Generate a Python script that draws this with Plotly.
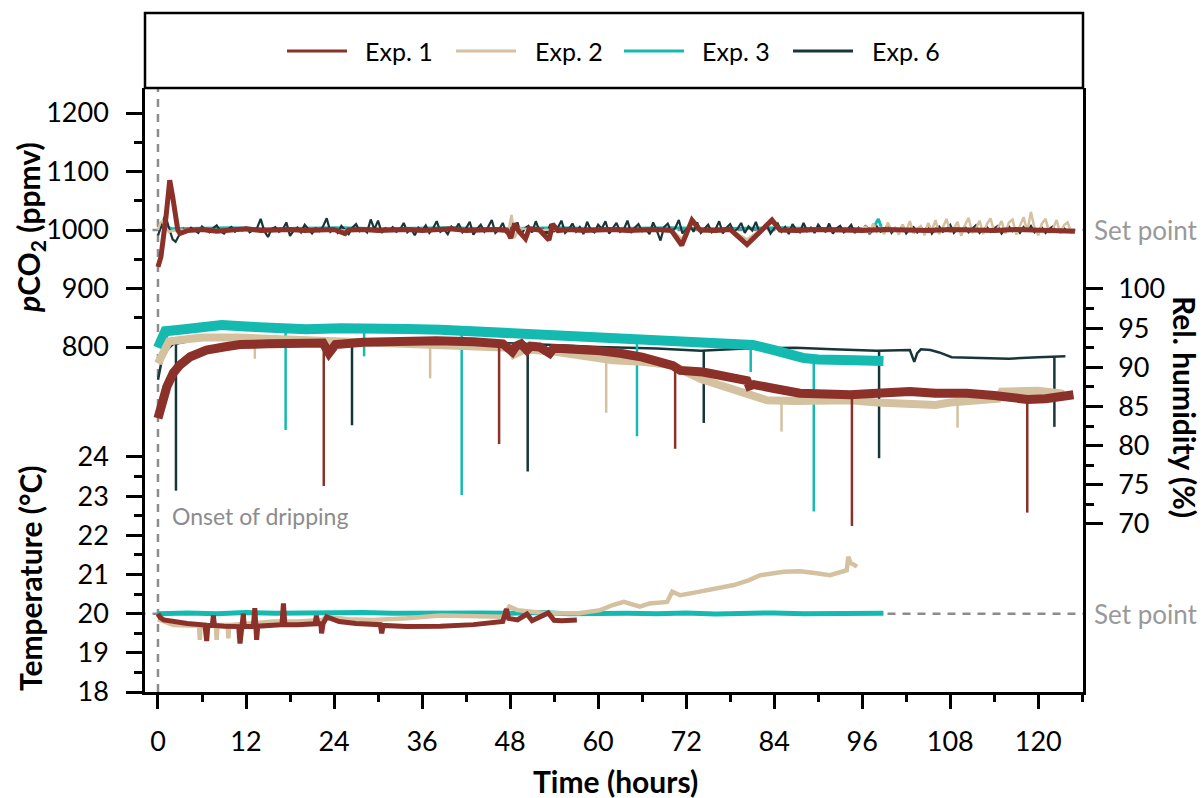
import plotly.graph_objects as go

# ---------------- data ----------------
# pCO2 (ppmv) as (hour, value)
co2_exp1 = [(0, 937), (0.4, 954), (1.1, 1023), (1.6, 1085), (2.0, 1057), (2.7, 1000), (3.0, 994), (4, 999), (6, 1001),
            (8, 998), (10, 1000), (12, 1002), (14, 999), (16, 1000), (18, 1001), (20, 999), (22, 1000), (24, 1001),
            (25.5, 994), (26, 1000), (28, 1001), (30, 999), (32, 1000), (34, 1001), (36, 999), (38, 1000), (40, 1002),
            (42, 999), (44, 1000), (46, 1001), (47.6, 999), (48.1, 986), (48.6, 1011), (49.2, 998), (50.1, 985),
            (50.6, 1002), (52, 1000), (53.3, 983), (53.8, 1010), (54.5, 999), (56, 1001), (58, 999), (60, 1000),
            (62, 1001), (64, 999), (66, 1000), (68, 1001), (70, 999), (71.4, 974), (72.8, 1017), (73.9, 1000),
            (76, 999), (78, 1001), (80.3, 975), (83.7, 1017), (84.8, 1000), (87, 999), (90, 1001), (93, 1000),
            (96, 999), (99, 1001), (102, 1000), (105, 999), (108, 1001), (111, 1000), (114, 999), (117, 1001),
            (120, 1000), (123, 999), (125, 998)]
co2_exp2_head = [(0, 1000), (0.3, 1012), (0.6, 1015), (1.0, 1005), (1.5, 997), (2.5, 1000), (5, 1001), (10, 999),
                 (15, 1001), (20, 1000), (25, 999), (30, 1001), (35, 1000), (40, 1001), (45, 999), (47.8, 1000),
                 (48.2, 1026), (48.6, 986), (49.2, 1003), (52, 1000), (55, 1001), (60, 999), (65, 1001), (70, 1000),
                 (71.4, 985), (72.8, 1012), (73.9, 1000), (78, 1001), (80.3, 984), (83.7, 1013), (84.8, 1000),
                 (88, 1001), (92, 999), (96, 1002)]
# half-hourly readings from 96.5 h to 125 h
co2_exp2_tail_start = 96.5
co2_exp2_tail = [1006, 995, 1011, 997, 1003, 993, 1013, 999, 1004, 992, 1009, 998, 1015, 994, 1002, 1007, 991, 1012,
                 999, 1017,
                 993, 1005, 1019, 996, 1003, 1014, 990, 1008, 1021, 995, 1002, 1016, 993, 1010, 1020, 996, 1004, 1015,
                 994, 1013,
                 1018, 992, 1006, 1022, 997, 1031, 1003, 991, 1011, 1019, 995, 1002, 1017, 994, 1008, 1013, 996, 1001]
co2_exp3 = [(0, 1004), (1, 1006), (2, 1002), (5, 1003), (10, 1004), (15, 1002), (20, 1003), (25, 1004), (30, 1002),
            (35, 1003), (40, 1004), (45, 1002), (50, 1003), (55, 1004), (60, 1002), (65, 1003), (70, 1004),
            (75, 1002), (80, 1003), (85, 1004), (90, 1002), (95, 1003), (97.5, 1003), (98.2, 1019), (98.6, 1005)]
co2_exp6_head = [(0, 991), (0.65, 1014), (1.0, 1026), (1.5, 1003), (2.0, 984), (2.4, 980), (3.0, 994)]
# half-hourly readings from 3.5 h to 124 h
co2_exp6_tail_start = 3.5
co2_exp6_tail = [
    1002, 997, 1004, 999, 995, 1006, 1000, 996, 1003, 1008, 998, 994, 1001, 1005, 997, 1002, 999, 1004, 996, 1000,
    1003, 1019, 998, 988, 1002, 1005, 997, 1001, 1013, 990, 999, 1004, 996, 1009, 1001, 994, 1003, 998, 1006, 1020,
    997, 1002, 995, 1007, 1000, 993, 1004, 1010, 998, 1002, 996, 1018, 1001, 1016, 995, 1003, 999, 1005, 997, 1001,
    1012, 996, 1002, 991, 1004, 999, 1008, 995, 1003, 1015, 997, 1001, 993, 1006, 1000, 1011, 996, 1003, 1014, 992,
    1002, 1009, 997, 1005, 1017, 995, 1001, 1012, 994, 1004, 998, 1013, 991, 1003, 1007, 996, 1015, 999, 1002, 994,
    1010, 998, 1004, 1016, 995, 1001, 1011, 997, 1005, 993, 1014, 1000, 996, 1009, 1002, 1015, 994, 1003, 1012, 997,
    1001, 1016, 995, 1004, 1010, 998, 1002, 993, 1013, 999, 982, 1005, 1011, 996, 1003, 1017, 994, 1001, 1008, 997,
    1013, 995, 1003, 1009, 996, 1001, 1015, 994, 1004, 1010, 997, 1002, 1012, 995, 1006, 999, 1014, 996, 1003, 1008,
    994, 1002, 1011, 997, 1005, 993, 1010, 1000, 996, 1012, 998, 1004, 995, 1009, 1001, 997, 1011, 994, 1003, 1007,
    996, 1001, 1009, 995, 1004, 998, 1008, 993, 1002, 1006, 997, 1001, 1009, 995, 1003, 999, 1007, 994, 1002, 1005,
    996, 1004, 999, 1008, 994, 1002, 1006, 997, 1001, 1009, 995, 1003, 998, 1006, 996, 1002, 1008, 995, 1001, 1005,
    997, 1003, 1007, 994, 1001, 1006, 998, 1002, 995, 1005, 999, 1007, 996, 1001, 1004, 995, 1002, 1006, 997, 1001,
    1003, 998]
READING_STEP = 0.5

# Relative humidity (%) baseline as (hour, value)
rh_exp1 = [(0, 83.5), (0.5, 85.5), (1.2, 87.5), (2.1, 89.3), (3.0, 90.3), (4.4, 91.35), (6.6, 92.2), (9, 92.6),
           (11.2, 92.9), (15, 93.0), (20, 93.1), (22.5, 93.1), (23.3, 91.8), (24.2, 92.9), (28, 93.2), (34, 93.4),
           (38, 93.4), (43, 93.25), (47, 93.0), (48.3, 92.0), (48.8, 92.7), (49.5, 93.0), (50.3, 92.2), (50.8, 92.7),
           (52, 92.6), (53.4, 91.8), (53.9, 92.4), (55, 92.4), (58, 92.3), (60.3, 92.1), (63, 91.8), (66, 91.3),
           (70.2, 90.2), (71.2, 89.6), (74.3, 89.4), (77, 89.0), (80.3, 88.3), (80.6, 87.6), (81.2, 87.8),
           (84, 87.3), (87.5, 86.7), (91, 86.6), (94.4, 86.5), (98, 86.7), (102.5, 86.9), (106, 86.7),
           (110.3, 86.7), (114, 86.4), (118.5, 85.9), (121, 86.0), (124.8, 86.5)]
rh_exp2 = [(0, 90.5), (0.5, 91.5), (1.5, 93.3), (3, 93.5), (6, 93.8), (11, 93.8), (16, 93.6), (22, 93.3), (28, 93.2),
           (34, 93.0), (40, 92.8), (46, 92.6), (48, 92.5), (48.5, 91.6), (50, 92.3), (54, 92.0), (58, 91.4),
           (62, 90.9), (66, 90.7), (70, 90.3), (74, 88.5), (78, 87.4), (80.5, 86.6), (83, 85.8), (87, 85.7),
           (91, 85.8), (94.4, 85.8), (98, 85.5), (101, 85.3), (104, 85.3), (106, 85.2), (108, 85.5), (112, 85.8),
           (114.5, 86.0), (115, 86.9), (117, 87.0), (120, 87.0), (122, 86.8), (123.5, 86.6)]
rh_exp3 = [(0, 92.5), (0.5, 93.8), (1, 94.6), (3, 94.8), (6, 95.1), (8.7, 95.4), (12, 95.2), (16, 95.0), (20.2, 94.85),
           (25, 95.0), (29.4, 95.1), (34, 94.9), (38.5, 94.8), (43, 94.6), (47.6, 94.4), (52, 94.2), (56.7, 94.0),
           (61.8, 93.7), (66, 93.6), (70, 93.6), (74.3, 93.3), (78, 93.1), (81.1, 92.85), (84, 92.2), (87.9, 91.2),
           (90, 91.0), (92.4, 90.85), (95, 90.9), (98.9, 90.8)]
rh_exp6 = [(0, 88.4), (0.4, 90.5), (0.7, 91.8), (1.2, 92.2), (2.1, 93.0), (2.4, 93.0), (5, 93.5), (10, 93.6), (20, 93.5),
           (30, 93.5), (40, 93.3), (50, 93.0), (60, 92.6), (68, 92.4), (74, 92.1), (80, 92.4), (86.9, 92.5),
           (92, 92.3), (98, 92.1), (102.5, 92.2), (103.1, 90.7), (103.5, 91.8), (104.0, 92.3), (105.3, 92.2),
           (106.5, 91.9), (108.2, 91.3), (112, 91.2), (116, 91.1), (120, 91.3), (123.7, 91.4)]

# Relative humidity drop-outs: (hour, value before, lowest value)
rh_drops_exp1 = [(22.6, 93.0, 74.85), (46.5, 93.0, 80.2), (70.5, 90.2, 79.6), (94.6, 86.5, 69.75), (118.5, 85.9, 71.45)]
rh_drops_exp2 = [(13.2, 93.8, 91.1), (37.1, 93.3, 88.6), (61.1, 90.9, 84.2), (85.0, 85.8, 81.8), (109.0, 85.7, 82.3)]
rh_drops_exp3 = [(17.4, 95.0, 82.0), (28.1, 95.1, 91.4), (41.4, 94.7, 73.7), (65.3, 93.6, 81.2), (80.8, 92.85, 89.4),
                 (89.4, 91.0, 71.6)]
rh_drops_exp6 = [(2.45, 93.0, 74.25), (26.45, 93.5, 82.6), (50.4, 93.0, 76.7), (74.4, 92.1, 82.9), (98.3, 92.1, 78.4),
                 (122.2, 91.4, 82.4)]

# Temperature (°C) as (hour, value)
temp_exp1 = [(0, 20.0), (0.3, 19.9), (0.8, 19.84), (2.1, 19.8), (4, 19.75), (6.4, 19.71), (6.64, 19.3), (6.8, 19.7),
             (7.4, 19.7), (7.55, 19.95), (7.7, 19.7), (9, 19.68), (11.0, 19.67), (11.18, 19.24), (11.4, 19.67),
             (11.55, 19.67), (11.64, 20.0), (11.75, 19.67), (13.0, 19.67), (13.2, 20.14), (13.3, 19.67),
             (13.45, 19.33), (13.6, 19.68), (15, 19.7), (16.9, 19.72), (17.1, 20.26), (17.3, 19.72), (19, 19.72),
             (21.4, 19.74), (21.6, 19.95), (21.8, 19.74), (22.2, 19.74), (22.3, 19.5), (22.5, 19.74), (23.0, 19.92),
             (24.7, 19.8), (27, 19.75), (30.3, 19.72), (30.5, 19.5), (30.7, 19.7), (33.9, 19.67), (38.5, 19.68),
             (43, 19.72), (47, 19.8), (47.5, 20.12), (47.8, 19.88), (49, 19.84), (50.3, 19.99), (51.0, 19.82),
             (53.2, 20.02), (54.0, 19.83), (55, 19.82), (57.1, 19.84)]
temp_exp2 = [(0, 19.86), (1, 19.8), (2.1, 19.71), (4, 19.7), (5.6, 19.7), (5.7, 19.33), (5.8, 19.7), (7.9, 19.71),
             (8.0, 19.33), (8.1, 19.71), (9.5, 19.71), (9.6, 19.37), (9.7, 19.71), (12, 19.74), (15.7, 19.8),
             (19, 19.8), (22.4, 19.84), (23.0, 19.92), (26, 19.86), (29.3, 19.84), (33.9, 19.88), (38.5, 19.95),
             (43, 19.92), (47, 19.92), (47.9, 20.18), (49, 20.09), (52.9, 20.01), (57.4, 20.01), (60.3, 20.09),
             (62, 20.22), (63.5, 20.3), (65.7, 20.18), (67, 20.26), (69.4, 20.3), (70.1, 20.56), (71.2, 20.47),
             (73.5, 20.55), (76.2, 20.65), (78.5, 20.73), (80.5, 20.85), (82.1, 20.98), (85.3, 21.07),
             (87.5, 21.08), (89.8, 21.03), (91.6, 20.98), (93.9, 21.11), (94.1, 21.45), (94.4, 21.3), (94.8, 21.24),
             (95.3, 21.2)]
temp_exp3 = [(0, 20.0), (4, 20.02), (8, 20.0), (12, 20.03), (16, 20.01), (20, 20.02), (24, 20.0), (28, 20.03),
             (32, 20.01), (36, 20.02), (40, 20.0), (44, 20.02), (48, 20.01), (52, 20.03), (56, 20.0), (60, 20.02),
             (64, 20.01), (68, 20.0), (72, 20.02), (76, 19.99), (80, 20.01), (84, 20.02), (88, 20.0), (92, 20.01),
             (96, 20.0), (98.9, 20.01)]

co2_setpoint = 1000
temp_setpoint = 20
onset_hour = 0

x_ticks = [0, 12, 24, 36, 48, 60, 72, 84, 96, 108, 120]
x_minor = [6, 18, 30, 42, 54, 66, 78, 90, 102, 114, 126]
co2_ticks = [800, 900, 1000, 1100, 1200]
co2_minor = [850, 950, 1050, 1150]
temp_ticks = [18, 19, 20, 21, 22, 23, 24]
temp_minor = [18.5, 19.5, 20.5, 21.5, 22.5, 23.5]
rh_ticks = [70, 75, 80, 85, 90, 95, 100]
rh_minor = [72.5, 77.5, 82.5, 87.5, 92.5, 97.5]

names = ["Exp. 1", "Exp. 2", "Exp. 3", "Exp. 6"]
colors = {"Exp. 1": "#8B3129", "Exp. 2": "#D3C19F", "Exp. 3": "#14BAB0", "Exp. 6": "#18363A"}

FONT = "Lato"
GRAY = "#8c8c8c"

fig = go.Figure()


def with_tail(head, start, tail):
    pts = list(head)
    for i, v in enumerate(tail):
        pts.append((start + i * READING_STEP, v))
    return pts


def add_line(data, name, width, yaxis):
    t, v = zip(*data)
    fig.add_trace(go.Scatter(x=list(t), y=list(v), mode="lines", name=name, yaxis=yaxis,
                             line=dict(color=colors[name], width=width), showlegend=False,
                             hoverinfo="skip"))


def add_drops(drops, name, width, yaxis):
    xs, ys = [], []
    for t, top, low in drops:
        xs += [t, t, None]
        ys += [top, low, None]
    fig.add_trace(go.Scatter(x=xs, y=ys, mode="lines", name=name, yaxis=yaxis,
                             line=dict(color=colors[name], width=width), showlegend=False,
                             hoverinfo="skip"))


# pCO2
add_line(co2_exp3, "Exp. 3", 3, "y")
add_line(with_tail(co2_exp6_head, co2_exp6_tail_start, co2_exp6_tail), "Exp. 6", 2.2, "y")
add_line(with_tail(co2_exp2_head, co2_exp2_tail_start, co2_exp2_tail), "Exp. 2", 2.5, "y")
add_line(co2_exp1, "Exp. 1", 5, "y")

# Temperature
add_line(temp_exp3, "Exp. 3", 5, "y2")
add_line(temp_exp2, "Exp. 2", 4.5, "y2")
add_line(temp_exp1, "Exp. 1", 5, "y2")

# Relative humidity
add_line(rh_exp6, "Exp. 6", 2.5, "y3")
add_drops(rh_drops_exp6, "Exp. 6", 2.5, "y3")
add_line(rh_exp3, "Exp. 3", 10, "y3")
add_drops(rh_drops_exp3, "Exp. 3", 2.5, "y3")
add_line(rh_exp2, "Exp. 2", 8, "y3")
add_drops(rh_drops_exp2, "Exp. 2", 2.5, "y3")
add_line(rh_exp1, "Exp. 1", 9, "y3")
add_drops(rh_drops_exp1, "Exp. 1", 2.5, "y3")

# ---------------- layout geometry ----------------
W, H = 1203, 798
L, R, T, B = 145, 120, 88, 106
PW, PH = W - L - R, H - T - B

tickfont = dict(family=FONT, size=27, color="black")
common = dict(showline=True, linewidth=2.5, linecolor="black", showgrid=False, zeroline=False,
              ticks="outside", tickwidth=2.5, tickcolor="black", tickfont=tickfont, mirror=False,
              automargin=False)

fig.update_layout(
    width=W, height=H, autosize=False,
    margin=dict(l=L, r=R, t=T, b=B, pad=0, autoexpand=False),
    paper_bgcolor="white", plot_bgcolor="white",
    showlegend=False,
    xaxis=dict(range=[-1.77, 126.1], tickvals=x_ticks, ticklen=14, ticklabelstandoff=10,
               minor=dict(tickvals=x_minor, ticklen=7, tickwidth=2.5, tickcolor="black", ticks="outside"),
               **common),
    yaxis=dict(range=[210.26, 1242.74], tickvals=co2_ticks, ticklen=16, ticklabelstandoff=12, side="left",
               minor=dict(tickvals=co2_minor, ticklen=8, tickwidth=2.5, tickcolor="black", ticks="outside"),
               **common),
    yaxis2=dict(range=[18, 33.42], tickvals=temp_ticks, ticklen=16, ticklabelstandoff=12, side="left",
                overlaying="y",
                minor=dict(tickvals=temp_minor, ticklen=8, tickwidth=2.5, tickcolor="black", ticks="outside"),
                **common),
    yaxis3=dict(range=[48.55, 125.66], tickvals=rh_ticks, ticklen=17, ticklabelstandoff=10, side="right",
                overlaying="y",
                minor=dict(tickvals=rh_minor, ticklen=8, tickwidth=2.5, tickcolor="black", ticks="outside"),
                **common),
)


def px_x(p):
    return (p - L) / PW


def px_y(p):
    return (H - B - p) / PH


shapes = []
# legend frame above the plot
shapes.append(dict(type="rect", xref="paper", yref="paper", x0=0, x1=1, y0=1, y1=px_y(13),
                   line=dict(color="black", width=2.5), fillcolor="rgba(0,0,0,0)", layer="above"))
# set point lines
shapes.append(dict(type="line", xref="paper", yref="y", x0=-0.008, x1=1, y0=co2_setpoint, y1=co2_setpoint,
                   line=dict(color=GRAY, width=2.5, dash="8px,7px"), layer="below"))
shapes.append(dict(type="line", xref="paper", yref="y2", x0=-0.008, x1=1, y0=temp_setpoint, y1=temp_setpoint,
                   line=dict(color=GRAY, width=2.5, dash="8px,7px"), layer="below"))
# onset of dripping
shapes.append(dict(type="line", xref="x", yref="paper", x0=onset_hour, x1=onset_hour, y0=0, y1=1,
                   line=dict(color=GRAY, width=2.5, dash="8px,7px"), layer="below"))

# manual legend inside frame
leg_lines = [(287, 347), (456, 516), (624, 684), (793, 853)]
leg_text = [363, 533, 700, 870]
annotations = []
for name, (a, b), tx in zip(names, leg_lines, leg_text):
    shapes.append(dict(type="line", xref="paper", yref="paper", x0=px_x(a), x1=px_x(b), y0=px_y(51), y1=px_y(51),
                       line=dict(color=colors[name], width=3)))
    annotations.append(dict(xref="paper", yref="paper", x=px_x(tx), y=px_y(51), text=name, showarrow=False,
                            xanchor="left", yanchor="middle", font=dict(family=FONT, size=25, color="black")))

title_font = dict(family=FONT, size=30, color="black")
annotations += [
    dict(xref="paper", yref="paper", x=px_x(615), y=px_y(781), text="<b>Time (hours)</b>",
         showarrow=False, xanchor="center", yanchor="middle", font=title_font),
    dict(xref="paper", yref="paper", x=px_x(30), y=px_y(228), text="<b><i>p</i>CO<sub>2</sub> (ppmv)</b>",
         textangle=-90, showarrow=False, xanchor="center", yanchor="middle", font=title_font),
    dict(xref="paper", yref="paper", x=px_x(30), y=px_y(578), text="<b>Temperature (°C)</b>",
         textangle=-90, showarrow=False, xanchor="center", yanchor="middle", font=title_font),
    dict(xref="paper", yref="paper", x=px_x(1185), y=px_y(407), text="<b>Rel. humidity (%)</b>",
         textangle=90, showarrow=False, xanchor="center", yanchor="middle", font=title_font),
    dict(xref="paper", yref="y", x=px_x(1092), y=co2_setpoint, text="Set point", showarrow=False,
         xanchor="left", yanchor="middle", font=dict(family=FONT, size=26, color="#999999")),
    dict(xref="paper", yref="y2", x=px_x(1092), y=temp_setpoint, text="Set point", showarrow=False,
         xanchor="left", yanchor="middle", font=dict(family=FONT, size=26, color="#999999")),
    dict(xref="x", yref="y2", x=1.6, y=22.5, text="Onset of dripping", showarrow=False,
         xanchor="left", yanchor="middle", font=dict(family=FONT, size=23, color=GRAY)),
]

fig.update_layout(shapes=shapes, annotations=annotations)
fig.write_html("out.html")
